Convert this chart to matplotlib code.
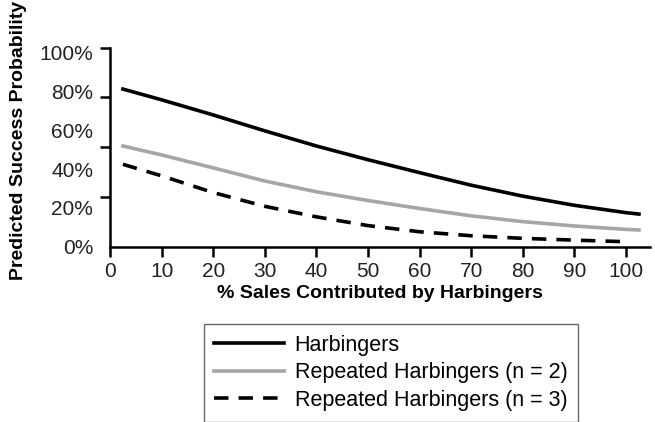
import numpy as np
import matplotlib
matplotlib.use("Agg")
import matplotlib.pyplot as plt

plt.rcParams['font.family'] = ['Liberation Sans', 'DejaVu Sans']

# values as plotted (fraction of axis height)
x_pts = [2.5, 10, 20, 30, 40, 50, 60, 70, 80, 90, 100, 102.5]
harbingers = [0.792, 0.738, 0.662, 0.582, 0.506, 0.437, 0.372, 0.309, 0.254, 0.208, 0.171, 0.164]
repeated_2 = [0.506, 0.461, 0.396, 0.330, 0.276, 0.232, 0.192, 0.155, 0.126, 0.104, 0.087, 0.084]
x_dash = [2.5, 10, 20, 30, 40, 50, 60, 70, 80, 90, 100]
repeated_3 = [0.414, 0.356, 0.272, 0.203, 0.150, 0.106, 0.075, 0.055, 0.042, 0.033, 0.025]

x_ticks = [0, 10, 20, 30, 40, 50, 60, 70, 80, 90, 100]
y_labels = ['0%', '20%', '40%', '60%', '80%', '100%']
y_label_pos = [k * 0.195 for k in range(6)]
y_tick_marks = [0, 0.25, 0.5, 0.75, 1.0]

fig = plt.figure(figsize=(6.55, 4.22), dpi=100)
ax = fig.add_axes([0.168, 0.4154, 0.824, 0.4716])

ax.plot(x_pts, harbingers, color='black', lw=2.6, label='Harbingers')
ax.plot(x_pts, repeated_2, color='#a6a6a6', lw=2.6, label='Repeated Harbingers (n = 2)')
ax.plot(x_dash, repeated_3, color='black', lw=2.6, ls=(0, (4, 2.8)), label='Repeated Harbingers (n = 3)')

ax.set_xlim(0, 104.6)
ax.set_ylim(0, 1)
ax.spines['top'].set_visible(False)
ax.spines['right'].set_visible(False)
ax.spines['left'].set_linewidth(1.8)
ax.spines['bottom'].set_linewidth(1.8)

ax.set_xticks(x_ticks)
ax.set_xticklabels([str(v) for v in x_ticks], fontsize=15, color='#222222')
ax.tick_params(axis='x', length=7, width=1.8, pad=4)

# label positions and tick marks do not line up in the original
ax.set_yticks(y_label_pos)
ax.set_yticklabels(y_labels, fontsize=15, color='#222222')
ax.tick_params(axis='y', which='major', length=0, pad=12)
ax.set_yticks(y_tick_marks, minor=True)
ax.tick_params(axis='y', which='minor', length=7, width=1.8)

ax.set_xlabel('% Sales Contributed by Harbingers', fontsize=14, fontweight='bold', labelpad=3)
fig.text(0.028, 0.668, 'Predicted Success Probability', rotation=90, fontsize=14,
         fontweight='bold', ha='center', va='center')

leg = fig.legend(loc='upper left', bbox_to_anchor=(0.311, 0.232), bbox_transform=fig.transFigure,
                 fontsize=15.5, frameon=True, fancybox=False, handlelength=3.25,
                 borderpad=0.5, labelspacing=0.3, handletextpad=0.47, borderaxespad=0)
leg.get_frame().set_edgecolor('#444444')
leg.get_frame().set_linewidth(1.0)

fig.savefig('out.png', dpi=100)
